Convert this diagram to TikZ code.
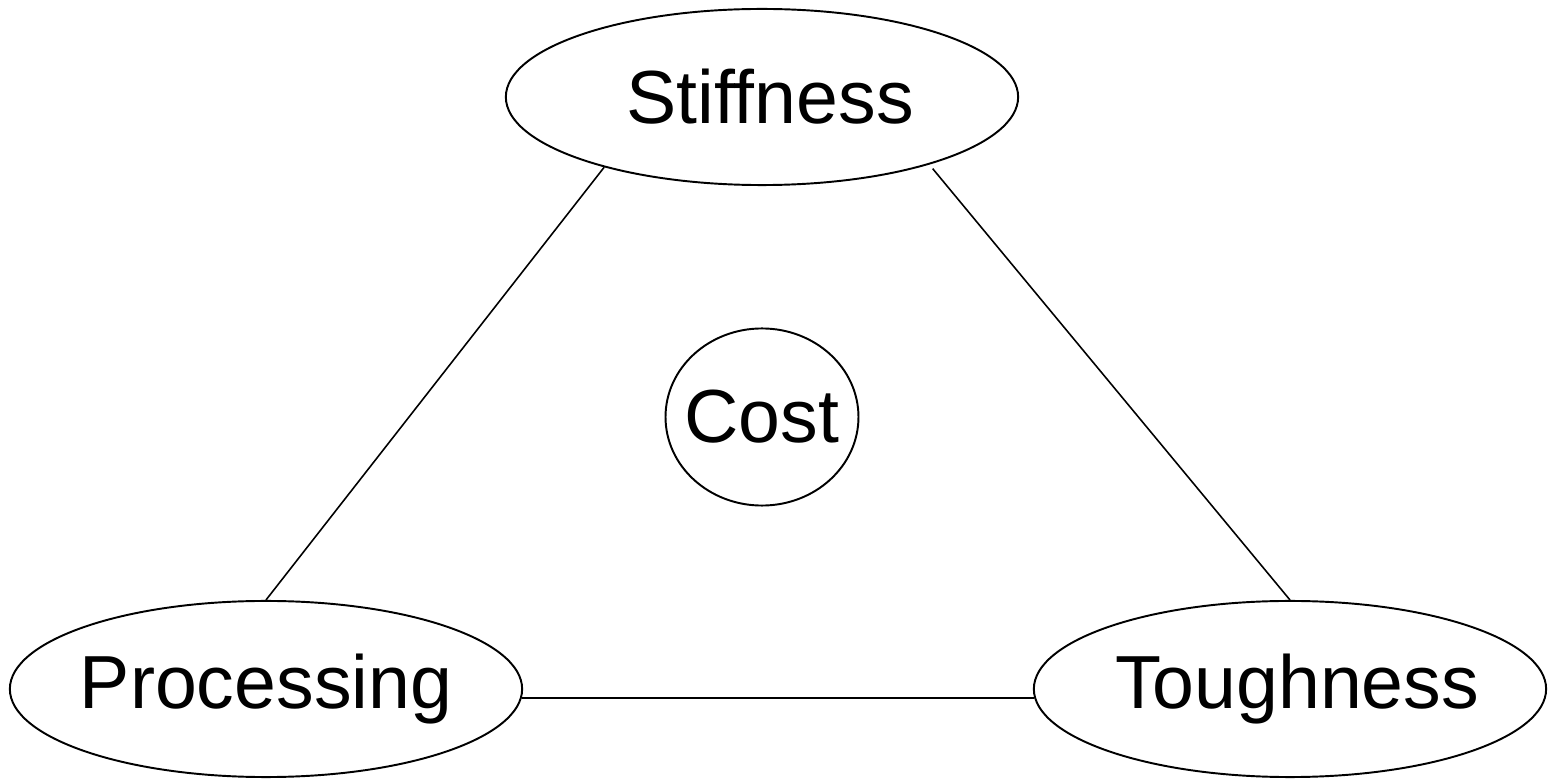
\documentclass[tikz,border=0pt]{standalone}
\usepackage{fontspec}
\setmainfont{Liberation Sans}
\usetikzlibrary{shapes.geometric}
\tikzset{
    prop/.style={ellipse, draw, line width=0.55pt, minimum width=5.12cm, minimum height=1.76cm, inner xsep=-4pt, inner ysep=0pt, font=\fontsize{21.4}{25}\selectfont},
    costnode/.style={ellipse, draw, line width=0.55pt, minimum width=1.92cm, minimum height=1.77cm, inner xsep=-2.6pt, inner ysep=0pt, font=\fontsize{21.4}{25}\selectfont},
    link/.style={line width=0.45pt}
}
\begin{document}
\begin{tikzpicture}[x=0.01cm, y=-0.01cm]
    % Frame
    \useasboundingbox (0,0) rectangle (1550,779);

    % Property ellipses
    \node[prop] (stiff) at (762,97) {\hspace*{0.16cm}Stiffness};
    \node[prop] (proc) at (266,689) {Processing};
    \node[prop] (tough) at (1290,689) {\hspace*{0.14cm}Toughness};

    % Centre
    \node[costnode] (cost) at (762,417) {Cost};

    % Triangle edges
    \draw[link] (stiff.204) -- (proc.north);
    \draw[link, shorten <=1.5pt] (stiff.338) -- (tough.north);
    \draw[link] (proc.-2) -- (tough.182);
\end{tikzpicture}
\end{document}
